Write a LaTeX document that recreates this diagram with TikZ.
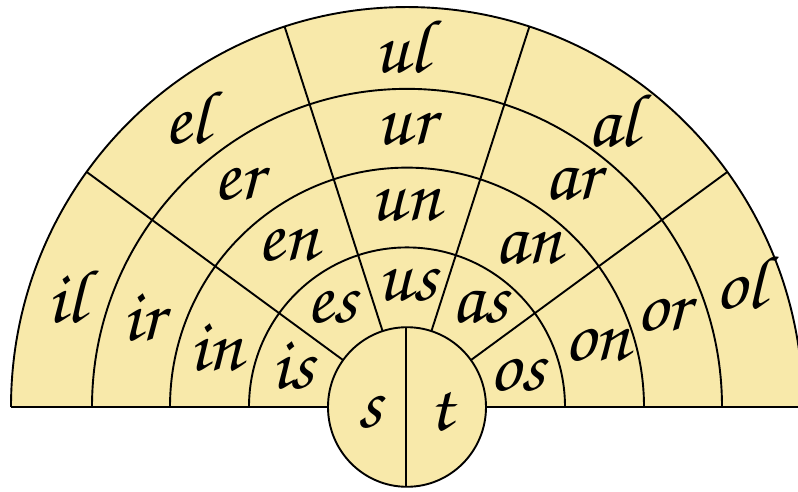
\documentclass[tikz,border=0pt]{standalone}
\usepackage[T1,TU]{fontenc}
\definecolor{fanfill}{RGB}{248,233,170}
\tikzset{
  ln/.style={line width=1.9pt, black},
  fan/.style={fill=fanfill},
  word/.style={anchor=base, inner sep=0pt, font=\fontencoding{T1}\fontfamily{pzc}\fontseries{mb}\fontshape{it}\fontsize{76}{80}\selectfont}
}
\begin{document}
\begin{tikzpicture}[x=1pt,y=1pt]
\useasboundingbox (0,0) rectangle (798,491);
\clip (0,0) rectangle (798,491);
\begin{scope}[shift={(407,84)}, yscale=1.01]
  \fill[fan] (-396,0) arc[start angle=180, end angle=0, radius=396] -- cycle;
  \fill[fan] (0,0) circle[radius=79];
  \draw[ln] (-396,0) arc[start angle=180, end angle=0, radius=396];
  \foreach \r in {158,237,315}
    \draw[ln] (-\r,0) arc[start angle=180, end angle=0, radius=\r];
  \draw[ln] (-396,0) -- (-79,0);
  \draw[ln] (79,0) -- (396,0);
  \foreach \a in {36,72,108,144}
    \draw[ln] (\a:79) -- (\a:396);
  \draw[ln] (0,0) circle[radius=79];
  \draw[ln] (-1,79) -- (-1,-79);
\end{scope}
% labels (x, 491 - baseline)
\node[word] (ul) at (401,418) {ul};
\node[word] (ur) at (405,346) {ur};
\node[word] (un) at (405,271) {un};
\node[word] (us) at (407,191) {us};
\node[word] (el) at (187,348) {el};
\node[word] (er) at (238,291) {er};
\node[word] (en) at (288,231) {en};
\node[word] (es) at (332,169) {es};
\node[word] (il) at (66,169) {il};
\node[word] (ir) at (143,151) {ir};
\node[word] (in) at (216,121) {in};
\node[word] (is) at (293,103) {is};
\node[word] (s) at (370,64) {s};
\node[word] (t) at (441,61) {t};
\node[word] (as) at (480,169) {as};
\node[word] (os) at (517,101) {os};
\node[word] (on) at (597,131) {on};
\node[word] (or) at (663,161) {or};
\node[word] (ol) at (740,183) {ol};
\node[word] (al) at (613,344) {al};
\node[word] (ar) at (572,291) {ar};
\node[word] (an) at (528,228) {an};
\end{tikzpicture}
\end{document}
